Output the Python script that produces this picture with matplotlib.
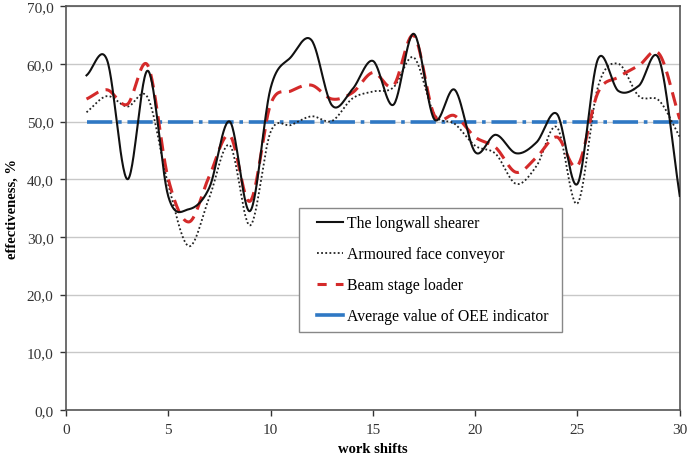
import numpy as np
import matplotlib
matplotlib.use("Agg")
import matplotlib.pyplot as plt
from matplotlib.lines import Line2D
from matplotlib.legend_handler import HandlerLine2D

# work shifts and OEE values
shifts = np.arange(1, 31)
shearer = [58.0, 60.7, 40.0, 58.8, 37.0, 34.8, 38.5, 50.0, 34.5, 55.8,
           61.2, 64.1, 52.8, 55.6, 60.5, 52.9, 65.2, 50.4, 55.5, 44.7,
           47.7, 44.5, 46.4, 51.3, 39.2, 60.8, 55.3, 56.2, 60.7, 37.1]
conveyor = [51.6, 54.4, 52.6, 54.1, 39.0, 28.4, 36.8, 45.9, 32.0, 48.2,
            49.4, 50.9, 50.1, 54.0, 55.2, 55.9, 61.1, 51.3, 49.6, 45.8,
            44.4, 39.2, 42.3, 49.0, 35.8, 56.0, 60.0, 54.4, 53.6, 47.3]
loader = [53.9, 55.5, 53.0, 59.7, 40.0, 32.6, 40.5, 47.6, 36.2, 53.0,
          55.3, 56.3, 53.9, 55.0, 58.5, 56.2, 64.9, 51.1, 51.0, 47.3,
          45.5, 41.2, 43.8, 47.3, 42.3, 55.0, 57.7, 59.7, 61.7, 50.4]
oee_avg = 50.0

labels = ["The longwall shearer", "Armoured face conveyor",
          "Beam stage loader", "Average value of OEE indicator"]


def smooth(x, y, n=30):
    # Excel style smoothed line (Catmull-Rom through the points)
    x = np.asarray(x, float)
    y = np.asarray(y, float)
    px = np.concatenate([[2 * x[0] - x[1]], x, [2 * x[-1] - x[-2]]])
    py = np.concatenate([[2 * y[0] - y[1]], y, [2 * y[-1] - y[-2]]])
    xs, ys = [], []
    t = np.linspace(0, 1, n, endpoint=False)
    for i in range(1, len(px) - 2):
        for p, out in ((px, xs), (py, ys)):
            p0, p1, p2, p3 = p[i - 1], p[i], p[i + 1], p[i + 2]
            out.append(0.5 * ((2 * p1) + (-p0 + p2) * t
                              + (2 * p0 - 5 * p1 + 4 * p2 - p3) * t ** 2
                              + (-p0 + 3 * p1 - 3 * p2 + p3) * t ** 3))
    xs.append([x[-1]])
    ys.append([y[-1]])
    return np.concatenate(xs), np.concatenate(ys)


plt.rcParams["font.family"] = ["Liberation Serif", "DejaVu Serif"]

fig = plt.figure(figsize=(6.88, 4.60), dpi=100)
ax = fig.add_axes([0.096, 0.1065, 0.892, 0.878])

blue = "#2f78c4"
ax.plot([1, 30], [oee_avg, oee_avg], color=blue, lw=2.6,
        dashes=(7, 1.6, 1, 1.6), zorder=2)
sx, sy = smooth(shifts, conveyor)
ax.plot(sx, sy, color="#222222", lw=1.3, linestyle=(0, (1, 1.3)), zorder=3)
sx, sy = smooth(shifts, loader)
ax.plot(sx, sy, color="#d42a2a", lw=2.2, dashes=(4.5, 2.5), zorder=4)
sx, sy = smooth(shifts, shearer)
ax.plot(sx, sy, color="#111111", lw=1.5, zorder=5)

ax.set_xlim(0, 30)
ax.set_ylim(0, 70)
ax.set_xticks(range(0, 31, 5))
ax.set_yticks(range(0, 71, 10))
ax.set_yticklabels([f"{v},0" for v in range(0, 71, 10)])
ax.grid(axis="y", color="#c8c8c8", lw=1.0)
ax.set_axisbelow(True)
for s in ax.spines.values():
    s.set_color("#555555")
    s.set_linewidth(1.2)
ax.tick_params(labelsize=11, colors="#333333", length=4, width=1, pad=5)
ax.set_xlabel("work shifts", fontsize=10.5, fontweight="bold", labelpad=5)
ax.set_ylabel("effectiveness, %", fontsize=10.5, fontweight="bold", labelpad=6)

# legend handles as Excel draws them
handles = [Line2D([], [], color="#111111", lw=1.5),
           Line2D([], [], color="#222222", lw=1.3, linestyle=(0, (1, 1.3))),
           Line2D([], [], color="#d42a2a", lw=2.2, dashes=(3, 3)),
           Line2D([], [], color=blue, lw=2.6)]
leg = ax.legend(handles, labels, loc="lower left",
                bbox_to_anchor=(0.379, 0.193, 0.429, 0.3), mode="expand",
                borderaxespad=0, fontsize=11.3, fancybox=False, framealpha=1,
                edgecolor="#888888", handlelength=2.3, handletextpad=0.25,
                labelspacing=0.95, borderpad=0.5,
                handler_map={Line2D: HandlerLine2D(xpad=0.7)})
leg.get_frame().set_linewidth(1.0)
leg.set_zorder(10)

fig.savefig("out.png", dpi=100)
